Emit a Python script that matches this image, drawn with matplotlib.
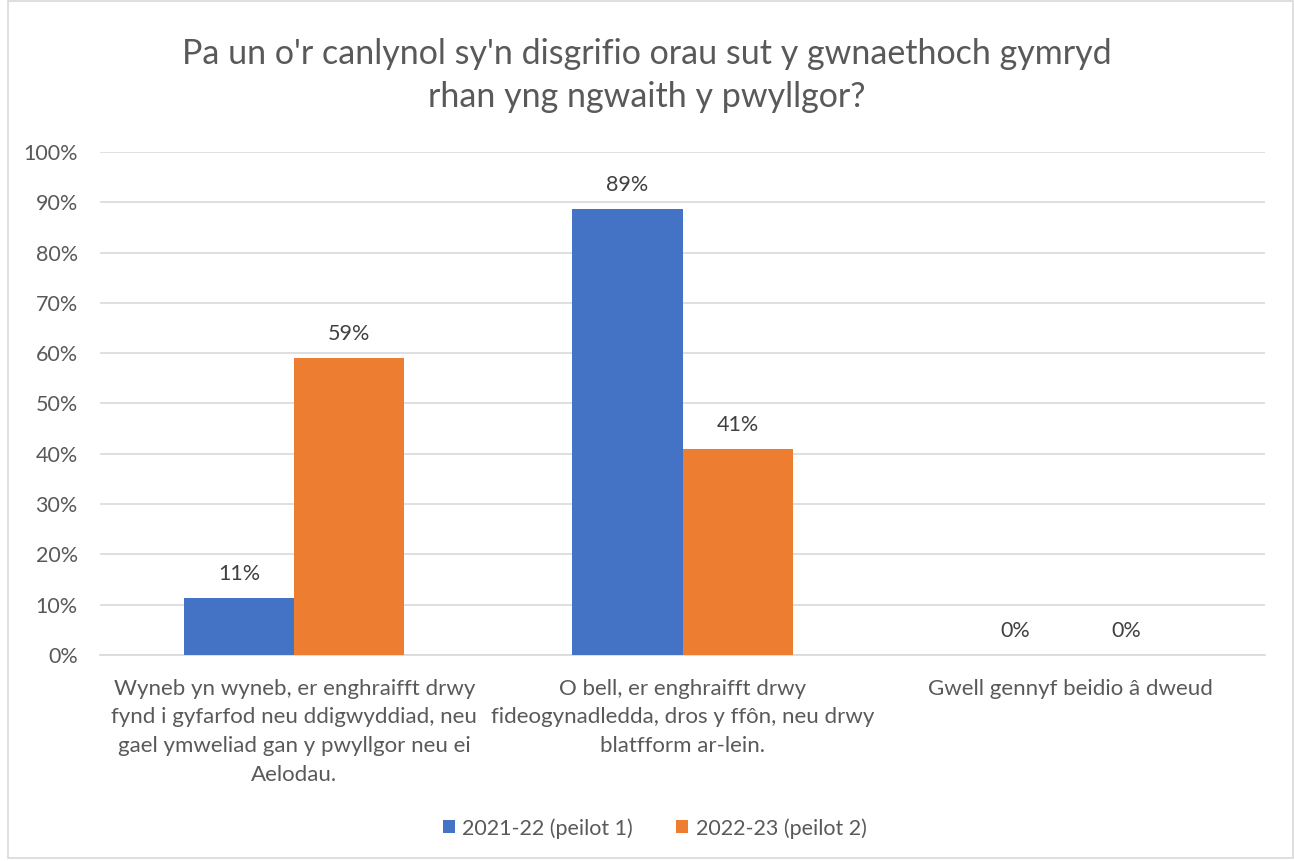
import numpy as np
import matplotlib.pyplot as plt
from matplotlib.patches import Rectangle

plt.rcParams['font.family'] = ['Lato', 'DejaVu Sans']

# data
categories = ['Wyneb yn wyneb, er enghraifft drwy\nfynd i gyfarfod neu ddigwyddiad, neu\ngael ymweliad gan y pwyllgor neu ei\nAelodau.',
              'O bell, er enghraifft drwy\nfideogynadledda, dros y ffôn, neu drwy\nblatfform ar-lein.',
              'Gwell gennyf beidio â dweud']
series_names = ['2021-22 (peilot 1)', '2022-23 (peilot 2)']
vals_2122 = [11.36, 88.64, 0.0]
vals_2223 = [59.09, 40.91, 0.0]
title = "Pa un o'r canlynol sy'n disgrifio orau sut y gwnaethoch gymryd\nrhan yng ngwaith y pwyllgor?"

txt = '#595959'
colors = ['#4472C4', '#ED7D31']

fig = plt.figure(figsize=(12.94, 8.61), dpi=100)
ax = fig.add_axes([0.0773, 0.2393, 0.9003, 0.5842])

x = np.arange(len(categories))
w = 0.284
bars1 = ax.bar(x - w/2, vals_2122, w, color=colors[0], label=series_names[0], zorder=3)
bars2 = ax.bar(x + w/2, vals_2223, w, color=colors[1], label=series_names[1], zorder=3)

for bars in (bars1, bars2):
	for b in bars:
		h = b.get_height()
		ax.annotate('%d%%' % round(h), (b.get_x() + b.get_width()/2, h),
		            xytext=(0, 10), textcoords='offset points',
		            ha='center', va='bottom', fontsize=15.5, color='#404040')

ax.set_xlim(-0.5, 2.5)
ax.set_ylim(0, 100)
ax.set_yticks(np.arange(0, 101, 10))
ax.set_yticklabels(['%d%%' % v for v in range(0, 101, 10)])
ax.set_xticks(x)
ax.set_xticklabels(categories, fontsize=16, color=txt, linespacing=1.55)
ax.tick_params(axis='y', length=0, labelsize=15.5, labelcolor=txt, pad=16)
ax.tick_params(axis='x', length=0, pad=17)
ax.grid(axis='y', color='#D9D9D9', linewidth=1.2, zorder=0)
for s in ['top', 'right', 'left']:
	ax.spines[s].set_visible(False)
ax.spines['bottom'].set_color('#D9D9D9')
ax.spines['bottom'].set_linewidth(1.2)

fig.text(0.5, 0.912, title, ha='center', va='center', fontsize=24.5, color=txt, linespacing=1.44)

fig.legend(loc='center', bbox_to_anchor=(0.506, 0.038), ncol=2, frameon=False,
           fontsize=15.5, handlelength=0.55, handleheight=0.55, columnspacing=2.0,
           handletextpad=0.35, labelcolor=txt)

fig.patches.append(Rectangle((0.006, 0.003), 0.993, 0.996, transform=fig.transFigure,
                             fill=False, edgecolor='#D9D9D9', linewidth=1.2))

plt.savefig('out.png', dpi=100)
plt.close()
